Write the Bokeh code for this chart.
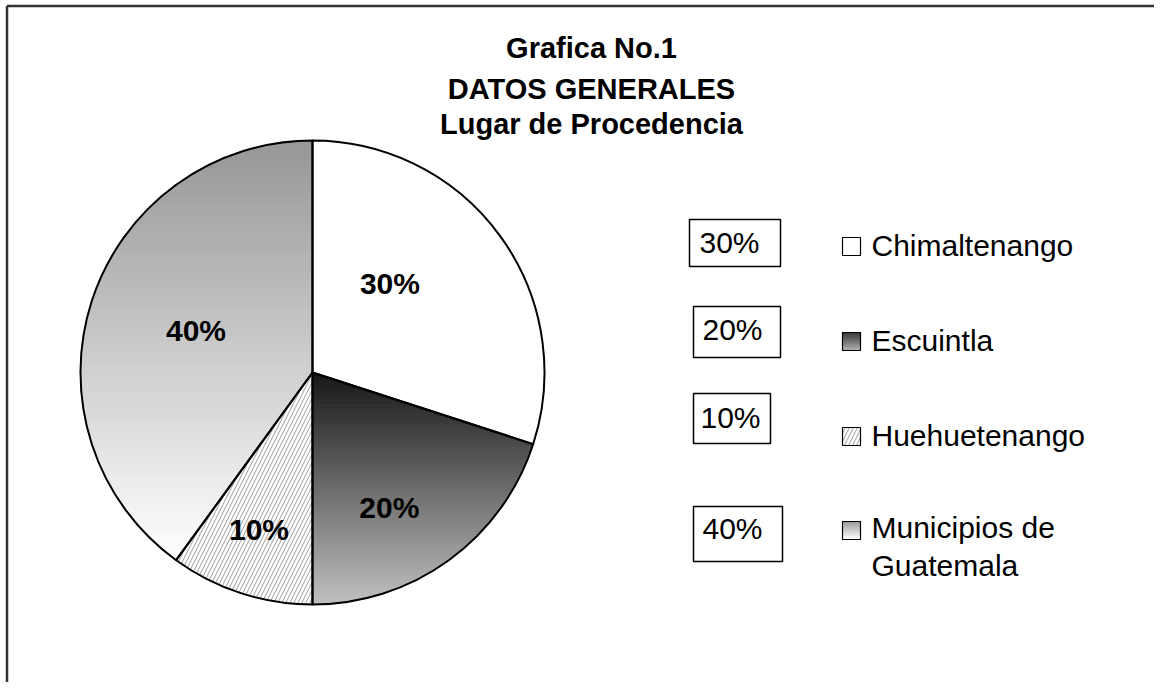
import numpy as np
from bokeh.plotting import figure
from bokeh.models import Range1d
from bokeh.embed import file_html
from bokeh.resources import INLINE
from bokeh.core.properties import value

# ---------------- data ----------------
categories = ["Chimaltenango", "Escuintla", "Huehuetenango", "Municipios de Guatemala"]
shares = [30, 20, 10, 40]
pct_labels = ["30%", "20%", "10%", "40%"]
legend_lines = [["Chimaltenango"], ["Escuintla"], ["Huehuetenango"], ["Municipios de", "Guatemala"]]
title_lines = ["Grafica No.1", "DATOS GENERALES", "Lugar de Procedencia"]

# ---------------- layout / style ----------------
W, H = 1154, 682
FONT = value("Liberation Sans")


def sy(y):
    """picture y (px from top) -> data y"""
    return H - y


p = figure(width=W, height=H, x_range=Range1d(0, W), y_range=Range1d(0, H),
           output_backend="svg", toolbar_location=None, min_border=0)
p.axis.visible = False
p.xgrid.visible = False
p.ygrid.visible = False
p.outline_line_color = None
p.background_fill_color = "white"
p.border_fill_color = "white"

# frame (top and left edges visible)
p.line([6.5, W], [sy(5.5), sy(5.5)], line_color="#333333", line_width=2.5)
p.line([6.5, 6.5], [sy(5.5), sy(H)], line_color="#333333", line_width=2.5)

# ---------------- pie ----------------
cx, cy, R = 312, sy(372), 232
fr = np.array(shares, dtype=float) / sum(shares)
cum = np.concatenate([[0], np.cumsum(fr)])
a_from = np.deg2rad(90 - 360 * cum[:-1])   # clockwise start
a_to = np.deg2rad(90 - 360 * cum[1:])      # clockwise end


def wedge_poly(a0, a1, n=240):
    t = np.linspace(a0, a1, n)
    xs = [cx] + list(cx + R * np.cos(t))
    ys = [cy] + list(cy + R * np.sin(t))
    return list(zip(xs, ys))


def inter(p1, p2, y0):
    (x1, y1), (x2, y2) = p1, p2
    if y2 == y1:
        return (x1, y0)
    t = (y0 - y1) / (y2 - y1)
    return (x1 + t * (x2 - x1), y0)


def clip(poly, y0, keep_above):
    out = []
    n = len(poly)
    for i in range(n):
        cur, prev = poly[i], poly[i - 1]
        cin = cur[1] >= y0 if keep_above else cur[1] <= y0
        pin = prev[1] >= y0 if keep_above else prev[1] <= y0
        if cin:
            if not pin:
                out.append(inter(prev, cur, y0))
            out.append(cur)
        elif pin:
            out.append(inter(prev, cur, y0))
    return out


def hexc(v):
    v = int(round(max(0, min(255, v))))
    return "#%02x%02x%02x" % (v, v, v)


def gradient(poly, g_top, g_bot, n=90):
    ys_all = [q[1] for q in poly]
    top, bot = max(ys_all), min(ys_all)
    xs_out, ys_out, cols = [], [], []
    edges = np.linspace(top, bot, n + 1)
    for i in range(n):
        hi, lo = edges[i], edges[i + 1]
        band = clip(clip(poly, lo, True), hi, False)
        if len(band) < 3:
            continue
        f = (i + 0.5) / n
        xs_out.append([q[0] for q in band])
        ys_out.append([q[1] for q in band])
        cols.append(hexc(g_top + (g_bot - g_top) * f))
    return xs_out, ys_out, cols


# gradient definitions (top grey, bottom grey) or None
slice_grad = [None, (22, 192), None, (150, 255)]
slice_hatch = [None, None, "/", None]
HATCH = dict(hatch_color="#ababab", hatch_scale=8, hatch_weight=1.1)

# white base for all slices (anticlockwise from a_to to a_from)
p.wedge(x=cx, y=cy, radius=R, start_angle=list(a_to), end_angle=list(a_from),
        fill_color="white", line_color=None)

for i in range(len(shares)):
    if slice_hatch[i]:
        p.wedge(x=cx, y=cy, radius=R, start_angle=a_to[i], end_angle=a_from[i],
                fill_color="white", line_color=None, hatch_pattern=slice_hatch[i], **HATCH)
    if slice_grad[i]:
        poly = wedge_poly(a_from[i], a_to[i])
        gx, gy, gc = gradient(poly, *slice_grad[i])
        p.patches(gx, gy, fill_color=gc, line_color=gc, line_width=1)

# outlines
p.wedge(x=cx, y=cy, radius=R, start_angle=list(a_to), end_angle=list(a_from),
        fill_alpha=0, line_color="black", line_width=2)

# slice labels
lab_r = [118, 155, 166, 124]
lab_da = [13, -6.3, -0.8, -2]
mid = 90 - 360 * (cum[:-1] + cum[1:]) / 2
lx = [cx + lab_r[i] * np.cos(np.deg2rad(mid[i] + lab_da[i])) for i in range(4)]
ly = [cy + lab_r[i] * np.sin(np.deg2rad(mid[i] + lab_da[i])) for i in range(4)]
p.text(x=lx, y=ly, text=pct_labels, text_font=FONT, text_font_style="bold",
       text_font_size="30px", text_align="center", text_baseline="middle", text_color="black")

# ---------------- title ----------------
title_mid = [47, 88, 123]
p.text(x=[591] * 3, y=[sy(b) for b in title_mid], text=title_lines, text_font=FONT,
       text_font_style="bold", text_font_size="29px", text_align="center",
       text_baseline="middle", text_color="black")

# ---------------- percent boxes ----------------
box_l = [689, 693, 693, 693]
box_r = [780, 780, 770, 782]
box_t = [219, 306, 393, 506]
box_b = [266, 357, 443, 561]
p.quad(left=box_l, right=box_r, top=[sy(v) for v in box_t], bottom=[sy(v) for v in box_b],
       fill_color="white", line_color="black", line_width=1.5)
box_txt_x = [699, 702, 700, 702]
box_txt_mid = [241.5, 328.5, 416.5, 527.5]
p.text(x=box_txt_x, y=[sy(v) for v in box_txt_mid], text=pct_labels, text_font=FONT,
       text_font_size="30px", text_align="left", text_baseline="middle", text_color="black")

# ---------------- legend ----------------
sw_x = 851
sw_y = [246, 341, 436, 530]
sw_s = 18
sw_grad = [None, (50, 175), None, (150, 255)]
for i in range(4):
    l, r = sw_x - sw_s / 2, sw_x + sw_s / 2
    t, b = sy(sw_y[i] - sw_s / 2), sy(sw_y[i] + sw_s / 2)
    if sw_grad[i]:
        rect = [(l, t), (r, t), (r, b), (l, b)]
        gx, gy, gc = gradient(rect, *sw_grad[i], n=12)
        p.patches(gx, gy, fill_color=gc, line_color=gc, line_width=1)
        p.quad(left=l, right=r, top=t, bottom=b, fill_alpha=0, line_color="black", line_width=1.2)
    elif slice_hatch[i]:
        p.quad(left=l, right=r, top=t, bottom=b, fill_color="white", line_color="black",
               line_width=1.2, hatch_pattern=slice_hatch[i], **HATCH)
    else:
        p.quad(left=l, right=r, top=t, bottom=b, fill_color="white", line_color="black",
               line_width=1.2)

leg_mid = [[244.5], [339.5], [434.5], [526.5, 564.5]]
tx, ty, tt = [], [], []
for i, lines in enumerate(legend_lines):
    for j, s in enumerate(lines):
        tx.append(871)
        ty.append(sy(leg_mid[i][j]))
        tt.append(s)
p.text(x=tx, y=ty, text=tt, text_font=FONT, text_font_size="30px", text_align="left",
       text_baseline="middle", text_color="black")

open("out.html", "w").write(file_html(p, INLINE))
